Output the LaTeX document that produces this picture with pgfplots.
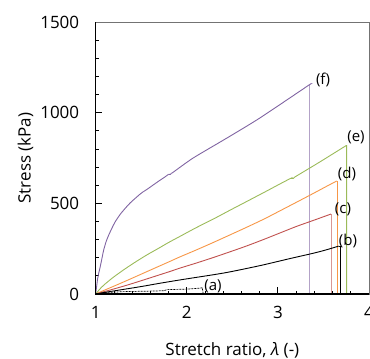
\documentclass[border=0pt]{standalone}
\usepackage{fontspec}
\setmainfont{Open Sans}
\usepackage{pgfplots}
\pgfplotsset{compat=1.18}
\usetikzlibrary{calc}
\definecolor{cf}{HTML}{8064A2}
\definecolor{ce}{HTML}{9BBB59}
\definecolor{cd}{HTML}{F79646}
\definecolor{cc}{HTML}{C0504D}
\begin{document}
\begin{tikzpicture}
\begin{axis}[
 scale only axis, width=273.3pt, height=272pt,
 xmin=1, xmax=4, ymin=0, ymax=1500,
 xtick={1,2,3,4}, ytick={0,500,1000,1500},
 minor x tick num=4, minor y tick num=4,
 tick pos=left, tick align=inside,
 major tick length=6.5pt, minor tick length=3.5pt,
 tick style={black, line width=0.8pt},
 axis line style={black!55, line width=0.8pt},
 /pgf/number format/assume math mode=true,
 /pgf/number format/set thousands separator={},
 tick label style={font=\fontsize{17}{20}\selectfont},
 xticklabel style={yshift=-9pt},
 yticklabel style={xshift=-13pt},
 xlabel={Stretch ratio, \textit{λ} (-)},
 ylabel={Stress (kPa)},
 label style={font=\fontsize{17}{20}\selectfont},
 xlabel style={at={(axis description cs:0.5,-0.2243)}, anchor=base},
 ylabel style={at={(axis description cs:-0.2378,0.5)}, anchor=base},
 clip=false,
 every axis plot/.append style={line width=0.9pt},
]
% (f)
\addplot[cf, smooth, tension=0.4] coordinates {(1,0)(1.01,40)(1.02,80)(1.033,114)(1.05,151)(1.07,200)(1.088,243)(1.115,290)(1.143,325)(1.18,365)(1.215,399)(1.27,440)(1.325,473)(1.38,503)(1.435,528)(1.5,556)(1.58,583)(1.67,615)(1.764,647)(1.80,660)};
\addplot[cf] coordinates {(1.80,660)(1.82,660)(1.83,665)};
\addplot[cf, smooth, tension=0.4] coordinates {(1.83,665)(1.86,675)(2.07,750)(2.44,860)(2.80,970)(3.334,1150)(3.345,1153)};
\addplot[cf, opacity=0.6, line width=1.2pt] coordinates {(3.345,1153)(3.345,0)};
% (e)
\addplot[ce, smooth, tension=0.5] coordinates {(1,0)(1.033,20)(1.06,35)(1.105,56)(1.18,87)(1.25,113)(1.335,143)(1.435,176)(1.56,215)(1.69,252)(1.80,284)(1.926,318)(2.1,365)(2.29,413)(2.47,461)(2.657,510)(2.877,568)(3.0,601)(3.133,636)(3.145,638)};
\addplot[ce] coordinates {(3.145,638)(3.17,638)(3.185,645)(3.46,728)(3.748,818)(3.755,818)(3.755,0)};
% (d)
\addplot[cd, smooth, tension=0.5] coordinates {(1,0)(1.05,11)(1.1,22)(1.18,39)(1.3,65)(1.435,95)(1.56,123)(1.69,152)(1.82,181)(1.926,205)(2.1,242)(2.29,284)(2.47,325)(2.657,368)(2.85,414)(3.02,458)(3.2,505)(3.39,555)(3.52,590)(3.645,623)};
\addplot[cd] coordinates {(3.645,623)(3.652,623)(3.652,0)};
% (c)
\addplot[cc, smooth, tension=0.5] coordinates {(1,0)(1.05,7)(1.1,14)(1.18,25)(1.325,46)(1.435,63)(1.56,83)(1.69,104)(1.82,125)(1.926,143)(2.1,170)(2.29,201)(2.47,232)(2.657,265)(2.85,302)(3.02,336)(3.2,372)(3.39,406)(3.583,441)};
\addplot[cc, opacity=0.6, line width=1.2pt] coordinates {(3.588,441)(3.588,0)};
% (b)
\addplot[black, smooth, tension=0.5] coordinates {(1,0)(1.05,4)(1.1,9)(1.325,27)(1.51,42)(1.69,58)(1.93,78)(2.057,88)(2.42,117)(2.79,155)(3.02,182)(3.155,198)(3.39,225)(3.52,242)(3.667,264)};
\addplot[black] coordinates {(3.667,264)(3.686,264)(3.686,0)};
% (a)
\addplot[black, line width=0.7pt, dash pattern=on 2pt off 1pt] coordinates {(1,0)(1.1,8)(1.3,13)(1.6,16)(1.75,18)(1.78,24)(2.0,27)(2.16,33)(2.17,35)(2.18,0)};
\node[font=\fontsize{15}{18}\selectfont] at (axis cs:3.495,1180) {(f)};
\node[font=\fontsize{15}{18}\selectfont] at (axis cs:3.857,866) {(e)};
\node[font=\fontsize{15}{18}\selectfont] at (axis cs:3.758,662) {(d)};
\node[font=\fontsize{15}{18}\selectfont] at (axis cs:3.714,469) {(c)};
\node[font=\fontsize{15}{18}\selectfont] at (axis cs:3.769,292) {(b)};
\node[font=\fontsize{15}{18}\selectfont] at (axis cs:2.288,44) {(a)};
\draw[black, line width=1.3pt] (rel axis cs:0,1) -- (rel axis cs:0,0) -- (rel axis cs:1,0);
\coordinate (SW) at (rel axis cs:0,0);
\coordinate (NE) at (rel axis cs:1,1);
\end{axis}
\pgfresetboundingbox
\path ($(SW)+(-95.7pt,-65pt)$) rectangle ($(NE)+(1pt,22pt)$);
\end{tikzpicture}
\end{document}
